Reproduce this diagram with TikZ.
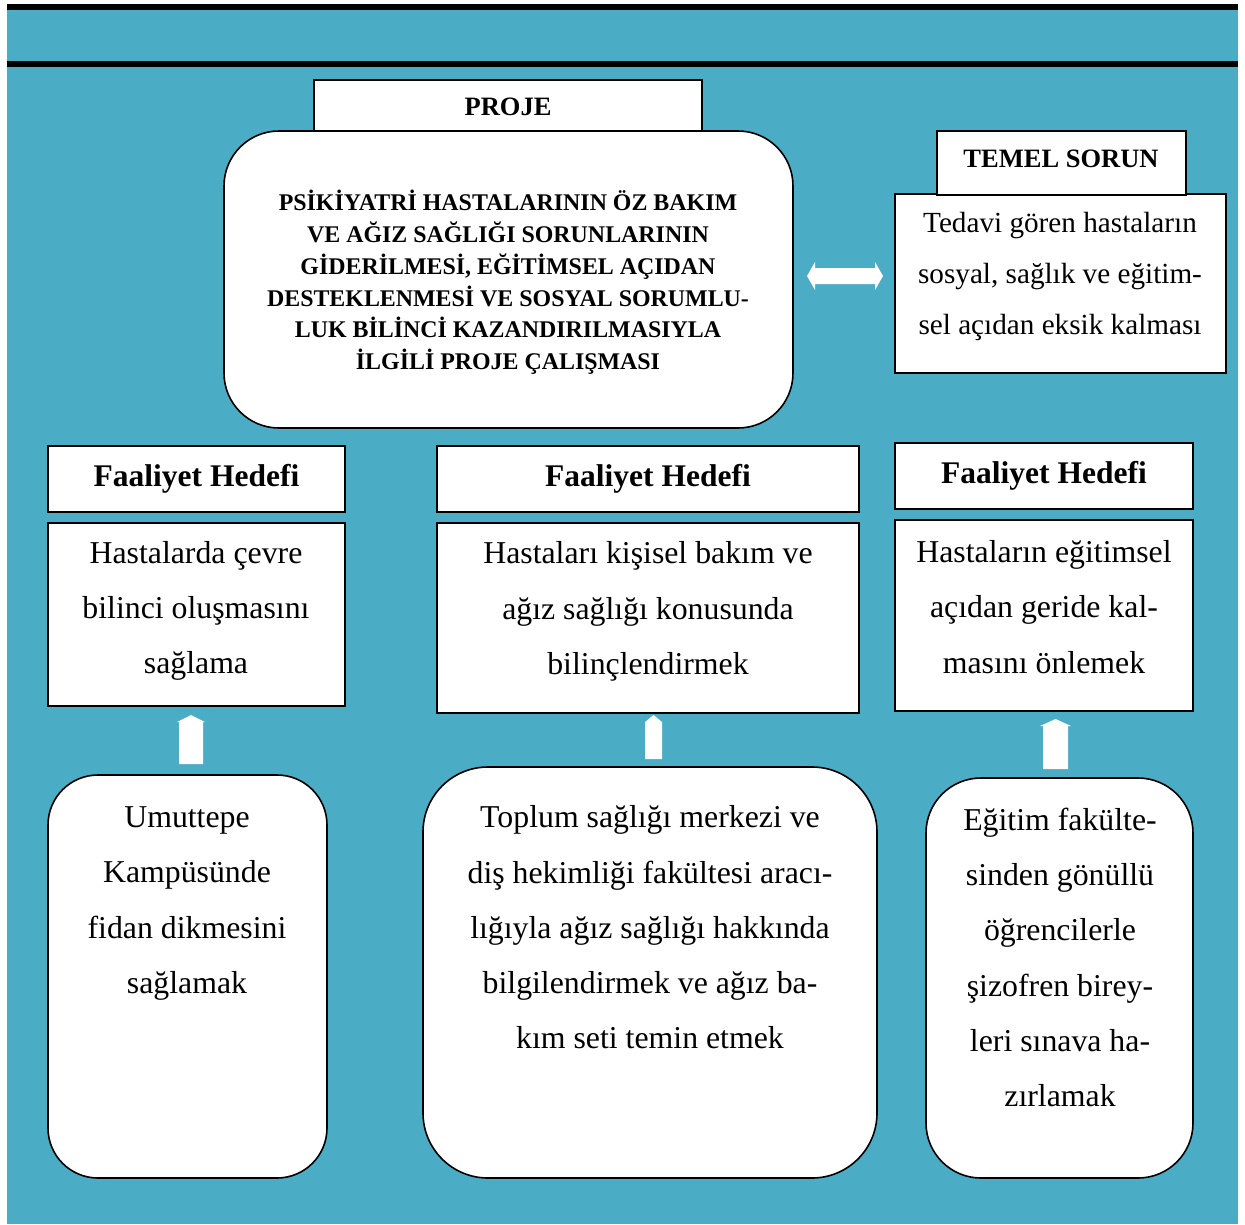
\documentclass[tikz,border=0pt]{standalone}
\usepackage{fontspec}
\setmainfont{Liberation Serif}
\definecolor{bgblue}{RGB}{75,172,198}
\begin{document}
\begin{tikzpicture}[x=1pt,y=-1pt,
  box/.style={draw=black,line width=1.6pt,fill=white,inner sep=0pt},
  rbox/.style={box,rounded corners=#1},
  hdr/.style={font={\fontsize{26.5}{30}\selectfont\bfseries}},
  fhdr/.style={font={\fontsize{31.5}{36}\selectfont\bfseries}},
  body/.style={align=center,font={\fontsize{31.8}{55.3}\selectfont}},
  blockarrow/.style={fill=white,draw=none}]
\useasboundingbox (0,0) rectangle (1245,1224);
\fill[bgblue] (7,4) rectangle (1238,1224);
\fill[black] (7,4) rectangle (1238,10);
\fill[black] (7,61) rectangle (1238,67);

% top area
\node[box,minimum width=388,minimum height=51] (proje) at (508,105.5) {};
\node[hdr] (projetxt) at (508,107) {PROJE};
\node[rbox=55pt,minimum width=569,minimum height=297] (main) at (508.5,279.5) {};
\node[align=center,font={\fontsize{23.9}{31.8}\selectfont\bfseries}] (maintxt) at (508,282.5)
 {PSİKİYATRİ HASTALARININ ÖZ BAKIM\\VE AĞIZ SAĞLIĞI SORUNLARININ\\GİDERİLMESİ, EĞİTİMSEL AÇIDAN\\DESTEKLENMESİ VE SOSYAL SORUMLU-\\LUK BİLİNCİ KAZANDIRILMASIYLA\\İLGİLİ PROJE ÇALIŞMASI};

\node[box,minimum width=331,minimum height=179] (tedavi) at (1060.5,283.5) {};
\node[box,minimum width=249,minimum height=64] (temel) at (1061.5,163) {};
\node[hdr] (temeltxt) at (1061,159) {TEMEL SORUN};
\node[align=center,font={\fontsize{29.2}{51}\selectfont}] (tedavitxt) at (1060,276)
 {Tedavi gören hastaların\\sosyal, sağlık ve eğitim-\\sel açıdan eksik kalması};

% double arrow
\fill[white] (807,276) -- (815,262) -- (815,268) -- (875,268) -- (875,262) -- (883,276)
  -- (875,290) -- (875,284) -- (815,284) -- (815,290) -- cycle;

% activity goals
\node[box,minimum width=297,minimum height=66] (fh1) at (196.5,479) {};
\node[fhdr] (fh1txt) at (196.5,479) {Faaliyet Hedefi};
\node[box,minimum width=297,minimum height=183] (fc1) at (196.5,614.5) {};
\node[body] (fc1txt) at (196,611) {Hastalarda çevre\\bilinci oluşmasını\\sağlama};

\node[box,minimum width=422,minimum height=66] (fh2) at (648,479) {};
\node[fhdr] (fh2txt) at (648,479) {Faaliyet Hedefi};
\node[box,minimum width=422,minimum height=190] (fc2) at (648,618) {};
\node[body] (fc2txt) at (648,611.5) {Hastaları kişisel bakım ve\\ağız sağlığı konusunda\\bilinçlendirmek};

\node[box,minimum width=298,minimum height=66] (fh3) at (1044,476) {};
\node[fhdr] (fh3txt) at (1044,476) {Faaliyet Hedefi};
\node[box,minimum width=298,minimum height=191] (fc3) at (1044,615.5) {};
\node[body] (fc3txt) at (1044,607) {Hastaların eğitimsel\\açıdan geride kal-\\masını önlemek};

% up arrows
\fill[blockarrow] (179,764) -- (179,722) -- (177,722) -- (191,715) -- (205,722) -- (203,722) -- (203,764) -- cycle;
\fill[blockarrow] (645,759) -- (645,722) -- (653.5,715) -- (662,722) -- (662,759) -- cycle;
\fill[blockarrow] (1043,769) -- (1043,726) -- (1040,726) -- (1055.5,719) -- (1071,726) -- (1068,726) -- (1068,769) -- cycle;

% bottom boxes
\node[rbox=50pt,minimum width=279,minimum height=403] (b1) at (187.5,976.5) {};
\node[body] (b1txt) at (187,903.5) {Umuttepe\\Kampüsünde\\fidan dikmesini\\sağlamak};
\node[rbox=65pt,minimum width=454,minimum height=411] (b2) at (650,972.5) {};
\node[body] (b2txt) at (650,927.5) {Toplum sağlığı merkezi ve\\diş hekimliği fakültesi aracı-\\lığıyla ağız sağlığı hakkında\\bilgilendirmek ve ağız ba-\\kım seti temin etmek};
\node[rbox=55pt,minimum width=267,minimum height=400] (b3) at (1059.5,978) {};
\node[body] (b3txt) at (1060,957.5) {Eğitim fakülte-\\sinden gönüllü\\öğrencilerle\\şizofren birey-\\leri sınava ha-\\zırlamak};
\end{tikzpicture}
\end{document}
